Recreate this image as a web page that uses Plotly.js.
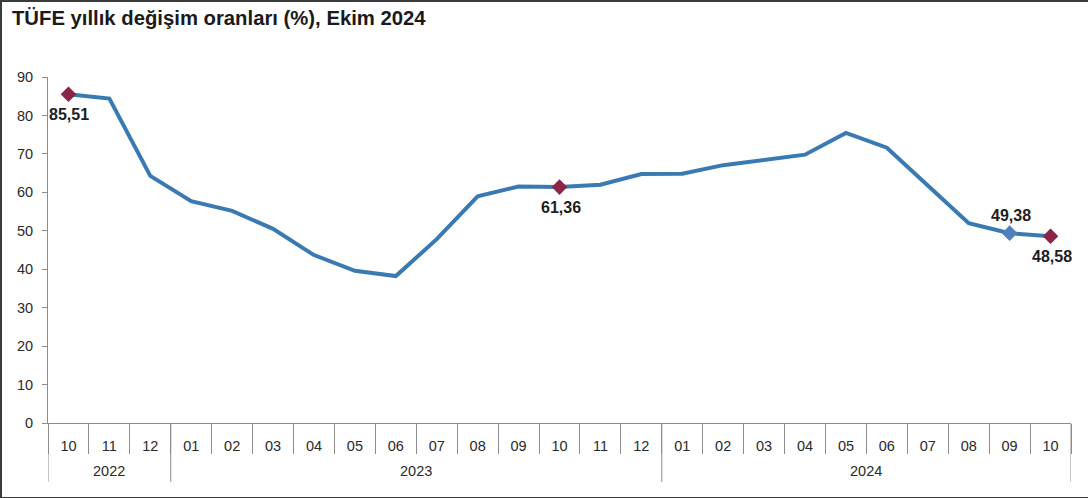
<!DOCTYPE html>
<html>
<head>
<meta charset="utf-8">
<script src="https://cdn.plot.ly/plotly-3.0.1.min.js"></script>
<style>
html,body{margin:0;padding:0;background:#fff;}
#wrap{position:relative;width:1088px;height:498px;}
#chart{position:absolute;left:0;top:0;width:1088px;height:498px;}
#frame{position:absolute;left:0;top:0;width:1086px;height:495px;border-left:2px solid #3a3a3a;border-top:2px solid #3a3a3a;border-bottom:2px solid #3a3a3a;pointer-events:none;}
</style>
</head>
<body>
<div id="wrap"><div id="chart"></div><div id="frame"></div></div>
<script>
const titleText = "TÜFE yıllık değişim oranları (%), Ekim 2024";
const years = ["2022","2022","2022",
  "2023","2023","2023","2023","2023","2023","2023","2023","2023","2023","2023","2023",
  "2024","2024","2024","2024","2024","2024","2024","2024","2024","2024"];
const months = ["10","11","12",
  "01","02","03","04","05","06","07","08","09","10","11","12",
  "01","02","03","04","05","06","07","08","09","10"];
const inflation = [85.51,84.39,64.27,
  57.68,55.18,50.51,43.68,39.59,38.21,47.83,58.94,61.53,61.36,61.98,64.77,
  64.86,67.07,68.50,69.80,75.45,71.60,61.78,51.97,49.38,48.58];
const highlightIdx = [0, 12, 23, 24];
const highlightColors = ["#8b2548","#8b2548","#4f7fbf","#8b2548"];
const highlightBelow = [true, true, false, true];

const FONT = 'Liberation Sans, Arial, sans-serif';
const idx = months.map((m,i)=>i);
const boundaries = idx.map(i=>i-0.5).concat([months.length-0.5]);

// year groups from the category arrays
const groups = [];
years.forEach((y,i)=>{
  const g = groups[groups.length-1];
  if(g && g.year===y){ g.end=i; } else { groups.push({year:y,start:i,end:i}); }
});

const yearAnnotations = groups.map(g=>({
  x:(g.start+g.end)/2, xref:'x', y:-0.14, yref:'paper', yanchor:'middle',
  text:g.year, showarrow:false, font:{family:FONT, size:14.5, color:'#2a2a2a'}
}));
const valueAnnotations = highlightIdx.map((i,k)=>({
  x:i, xref:'x', y:inflation[i], yref:'y', yanchor:'middle',
  text:inflation[i].toFixed(2).replace('.', ','), showarrow:false,
  yshift: highlightBelow[k] ? -20 : -2+20, xshift: 1,
  font:{family:FONT, size:16, color:'#1e1e1e', weight:'bold'}
}));
const dividerShapes = groups.map(g=>g.start-0.5).concat([groups[groups.length-1].end+0.5]).map(b=>({
  type:'line', xref:'x', yref:'paper', x0:b, x1:b, y0:0, y1:-0.17,
  line:{color:'#8c8c8c', width:1}
}));

const traces = [
  {
    type:'scatter', mode:'lines',
    x:idx, y:inflation,
    line:{color:'#3a7ab3', width:4},
    hoverinfo:'skip', showlegend:false
  },
  {
    type:'scatter', mode:'markers',
    x:highlightIdx, y:highlightIdx.map(i=>inflation[i]),
    marker:{symbol:'diamond', size:12, color:highlightColors},
    showlegend:false, cliponaxis:false
  }
];

const layout = {
  width:1088, height:498,
  paper_bgcolor:'#fff', plot_bgcolor:'#fff',
  margin:{l:48, r:17, t:77, b:75},
  font:{family:FONT, size:14, color:'#2a2a2a'},
  title:{text:titleText, xref:'container', yref:'container', x:0.011, xanchor:'left', y:0.964, yanchor:'middle',
    font:{family:FONT, size:20.3, color:'#1a1a1a', weight:'bold'}},
  xaxis:{type:'linear', range:[-0.5, months.length-0.5], showline:true, linecolor:'#8c8c8c', linewidth:1,
    tickmode:'array', tickvals:idx, ticktext:months, ticks:'', ticklabelstandoff:10,
    minor:{tickmode:'array', tickvals:boundaries, ticks:'outside', ticklen:30, tickcolor:'#8c8c8c', tickwidth:1, showgrid:false},
    showgrid:false, zeroline:false, fixedrange:true,
    tickfont:{size:14.5, color:'#2a2a2a'}},
  yaxis:{range:[0,90], dtick:10, tick0:0, showline:true, linecolor:'#8c8c8c', linewidth:1,
    ticks:'outside', ticklen:5, tickcolor:'#8c8c8c', showgrid:false, zeroline:false,
    ticklabelstandoff:6,
    tickfont:{size:14.5, color:'#2a2a2a'}, fixedrange:true},
  annotations: yearAnnotations.concat(valueAnnotations),
  shapes: dividerShapes
};

Plotly.newPlot('chart', traces, layout, {displayModeBar:false, staticPlot:true});
</script>
</body>
</html>
